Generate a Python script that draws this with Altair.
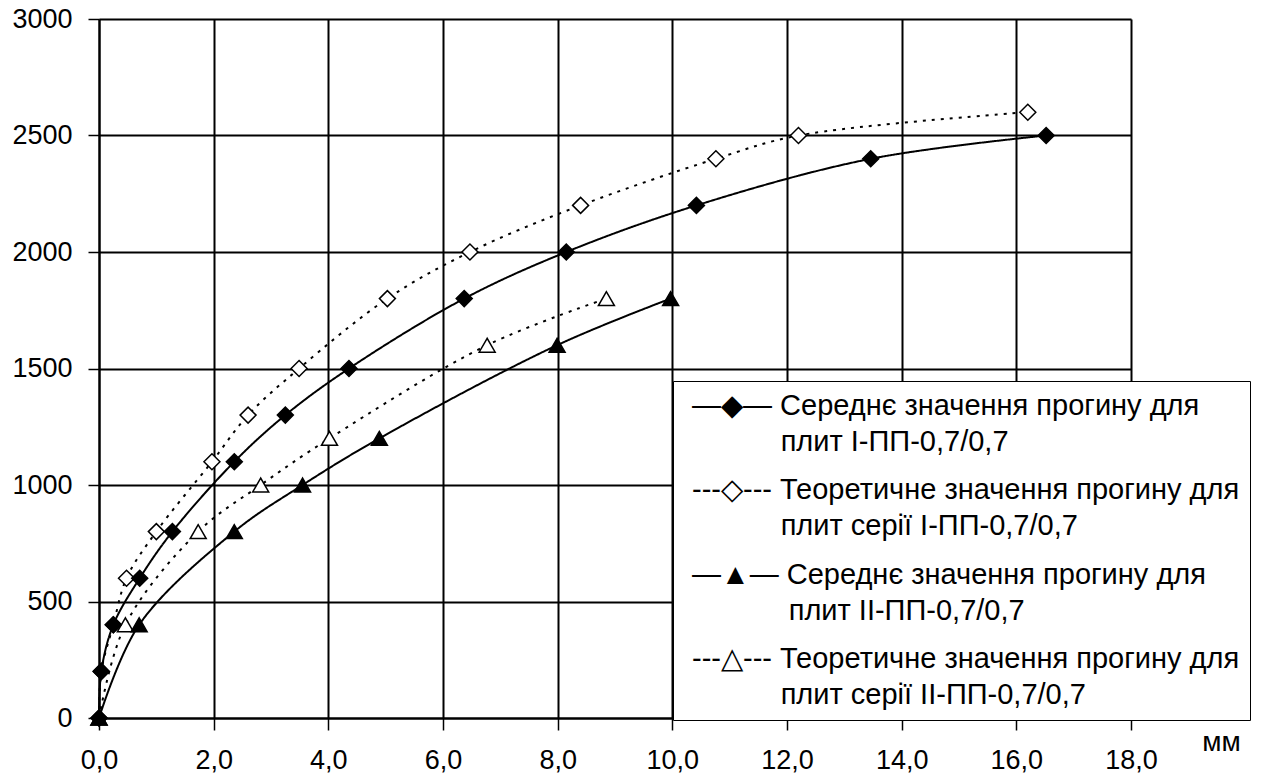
import altair as alt
import pandas as pd

# ---------------- data ----------------
series_keys = ["s1", "s2", "s3", "s4"]
series_labels = {
    "s1": ["Середнє значення прогину для", "плит І-ПП-0,7/0,7"],
    "s2": ["Теоретичне значення прогину для", "плит серії І-ПП-0,7/0,7"],
    "s3": ["Середнє значення прогину для", "плит ІІ-ПП-0,7/0,7"],
    "s4": ["Теоретичне значення прогину для", "плит серії ІІ-ПП-0,7/0,7"],
}
# legend keys written as text: line style + marker
legend_keys = {"s1": "—◆—", "s2": "---◇---", "s3": "—▲—", "s4": "---△---"}
legend_indent = {"s1": 11, "s2": 11, "s3": 12, "s4": 11}

s1_x = [0, 0.04, 0.25, 0.71, 1.28, 2.36, 3.25, 4.36, 6.37, 8.15, 10.42, 13.46, 16.52]
s1_y = [0, 200, 400, 600, 800, 1100, 1300, 1500, 1800, 2000, 2200, 2400, 2500]

s2_x = [0, 0.04, 0.25, 0.48, 1.0, 1.97, 2.6, 3.49, 5.03, 6.47, 8.4, 10.76, 12.2, 16.2]
s2_y = [0, 200, 400, 600, 800, 1100, 1300, 1500, 1800, 2000, 2200, 2400, 2500, 2600]

s3_x = [0, 0.7, 2.36, 3.55, 4.89, 7.99, 9.97]
s3_y = [0, 400, 800, 1000, 1200, 1600, 1800]

s4_x = [0, 0.46, 1.73, 2.82, 4.02, 6.77, 8.85]
s4_y = [0, 400, 800, 1000, 1200, 1600, 1800]

x_ticks = list(range(0, 19, 2))
y_ticks = list(range(0, 3001, 500))

rows = []
# open markers first so that filled ones are drawn on top
for key, xs, ys in [("s2", s2_x, s2_y), ("s4", s4_x, s4_y),
                    ("s1", s1_x, s1_y), ("s3", s3_x, s3_y)]:
    for xv, yv in zip(xs, ys):
        rows.append({"series": key, "x": xv, "y": yv})
df = pd.DataFrame(rows)

FONT = "Liberation Sans"
LEGEND_FONT = 29.0
NB = "\u00a0"
ZW = "\u200b"


def js(s):
    return "'" + s.replace("\\", "\\\\").replace("'", "\\'") + "'"


label_expr = "''"
for k in reversed(series_keys):
    first, second = series_labels[k]
    indent = (ZW + NB) * legend_indent[k] + ZW
    lines_ = [legend_keys[k] + NB + first, indent + second]
    arr = "[" + ", ".join(js(t) for t in lines_) + "]"
    label_expr = f"datum.value === '{k}' ? {arr} : ({label_expr})"

legend = alt.Legend(
    title=None,
    orient="none",
    legendX=574,
    legendY=362,
    direction="vertical",
    padding=10,
    fillColor="white",
    strokeColor="black",
    rowPadding=18.5,
    labelOffset={"expr": "-20"},
    symbolSize=1,
    symbolOpacity=0,
    labelFont=FONT,
    labelFontSize=LEGEND_FONT,
    labelColor="black",
    labelLimit=1000,
    labelBaseline="middle",
    labelExpr=label_expr,
)

x_axis = alt.Axis(
    values=x_ticks,
    labelExpr="replace(format(datum.value, '.1f'), '.', ',')",
    grid=True, gridColor="black", gridWidth=2, gridOpacity=1,
    domainColor="black", domainWidth=2,
    tickColor="black", tickWidth=1.5, tickSize=12,
    labelFont=FONT, labelFontSize=27, labelColor="black", labelPadding=17,
    labelFlush=False, labelOverlap=False,
    title="мм", titleX=1122, titleY=32, titleBaseline="alphabetic",
    titleAlign="center", titleFont=FONT, titleFontSize=28,
    titleFontWeight="normal", titleColor="black",
)
y_axis = alt.Axis(
    values=y_ticks, format="d",
    grid=True, gridColor="black", gridWidth=2, gridOpacity=1,
    domainColor="black", domainWidth=2,
    tickColor="black", tickWidth=1.5, tickSize=11,
    labelFont=FONT, labelFontSize=27, labelColor="black", labelPadding=16,
    labelFlush=False, labelOverlap=False,
    title=None,
)

x_enc = alt.X("x:Q", scale=alt.Scale(domain=[0, 18], nice=False, zero=False), axis=x_axis)
y_enc = alt.Y("y:Q", scale=alt.Scale(domain=[0, 3000], nice=False), axis=y_axis)

base = alt.Chart(df)

lines = base.mark_line(color="black", strokeWidth=2, interpolate="catmull-rom").encode(
    x=x_enc,
    y=y_enc,
    strokeDash=alt.StrokeDash(
        "series:N",
        scale=alt.Scale(domain=series_keys, range=[[1, 0], [3, 6], [1, 0], [3, 6]]),
        legend=None,
    ),
)

points = base.mark_point(filled=True, stroke="black", strokeWidth=1.5, opacity=1).encode(
    x="x:Q",
    y="y:Q",
    shape=alt.Shape("series:N",
                    scale=alt.Scale(domain=series_keys,
                                    range=["diamond", "diamond", "triangle-up", "triangle-up"]),
                    legend=None),
    fill=alt.Fill("series:N",
                  scale=alt.Scale(domain=series_keys,
                                  range=["black", "white", "black", "white"]),
                  legend=None),
    size=alt.Size("series:N",
                  scale=alt.Scale(domain=series_keys, range=[256, 256, 300, 300]),
                  legend=None),
)

# legend-carrying layer: draws no rows, only provides the legend box and texts
legend_layer = base.transform_filter("false").mark_point(
    filled=True, fill="white", stroke="black", strokeWidth=1.5, opacity=1
).encode(
    x="x:Q",
    y="y:Q",
    shape=alt.Shape("series:N",
                    scale=alt.Scale(domain=series_keys,
                                    range=["diamond", "diamond", "triangle-up", "triangle-up"]),
                    legend=legend),
)

chart = (
    alt.layer(lines, points, legend_layer)
    .resolve_scale(shape="independent")
    .properties(
        width=1032,
        height=699,
        autosize=alt.AutoSizeParams(type="none"),
        padding={"left": 91, "top": 11, "right": 124, "bottom": 56},
        background="white",
    )
    .configure_view(stroke="black", strokeWidth=2)
    .configure(style={"guide-label": {"lineHeight": 36}})
)

chart.save("out.html", embed_options={"renderer": "svg", "actions": False})
